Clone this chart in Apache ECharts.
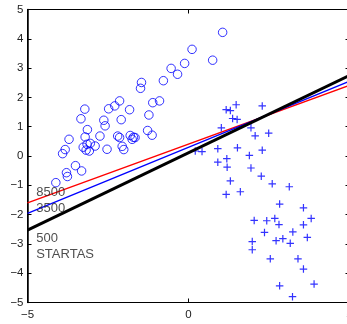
<!DOCTYPE html>
<html>
<head>
<meta charset="utf-8">
<script src="https://cdn.jsdelivr.net/npm/echarts@6/dist/echarts.min.js"></script>
<style>html,body{margin:0;padding:0;background:#fff;}#c{width:347px;height:324px;}</style>
</head>
<body>
<div id="c"></div>
<script>
// Class 1 (open circles)
var circleX = [-4.12,-3.91,-3.83,-3.79,-3.76,-3.71,-3.51,-3.32,-3.34,-3.22,-3.14,-3.21,-3.27,-3.15,-3.05,-2.90,-3.18,-3.08,-2.75,-2.63,-2.59,-2.53,-2.48,-2.29,-2.14,-2.09,-2.20,-2.14,-2.06,-2.01,-1.83,-1.81,-1.75,-1.71,-1.66,-1.49,-1.46,-1.23,-1.27,-1.13,-1.11,-0.90,-0.78,-0.54,-0.34,-0.12,0.11,0.75,1.06];
var circleY = [-0.91,0.08,0.22,-0.57,-0.70,0.57,-0.33,-0.51,1.27,1.60,0.90,0.65,0.30,0.40,0.43,0.34,0.20,0.17,0.68,1.22,1.03,0.23,1.61,1.71,1.88,1.24,0.68,0.63,0.33,0.22,1.58,0.70,0.57,0.64,0.63,2.31,2.51,1.40,0.87,0.71,1.82,1.88,2.57,2.99,2.79,3.16,3.64,3.27,4.22];
// Class 2 (plus markers)
var plusX = [0.21,0.42,0.91,1.02,1.17,1.30,1.48,1.37,1.51,1.52,1.94,2.07,2.29,2.49,2.29,1.89,1.19,0.91,1.20,1.94,2.26,1.30,1.17,1.61,2.60,3.13,2.83,3.57,2.04,2.43,2.68,2.81,3.81,3.57,2.36,3.24,1.98,1.98,2.72,2.93,3.16,3.69,2.54,3.40,3.57,3.90,2.83,3.23];
var plusY = [0.17,0.15,0.25,0.96,1.58,1.55,1.75,1.28,1.25,0.28,0.96,0.69,1.71,0.78,0.20,0.02,-0.09,-0.21,-0.38,-0.41,-0.69,-0.85,-1.31,-1.22,-0.95,-1.05,-1.64,-1.77,-2.20,-2.21,-2.13,-2.34,-2.13,-2.35,-2.61,-2.59,-2.92,-3.20,-2.89,-2.82,-2.98,-2.78,-3.51,-3.51,-3.86,-4.37,-4.43,-4.80];
// Decision lines
var lineX = [-5, 5];
var line8500Y = [-1.60, 2.41];
var line3500Y = [-1.96, 2.55];
var lineStartasY = [-2.53, 2.75];
// Annotations
var annotationLabels = ['8500', '3500', '500', 'STARTAS'];
var annotationX = [-4.73, -4.73, -4.73, -4.73];
var annotationY = [-1.26, -1.78, -2.80, -3.35];
// Axis ticks
var xTicks = [-5, 0, 5];
var yTicks = [-5, -4, -3, -2, -1, 0, 1, 2, 3, 4, 5];

function zip(a, b) { return a.map(function (v, i) { return [v, b[i]]; }); }
function fmt(v) { return String(v).replace('-', '\u2212'); }

var FONT = '"Liberation Sans", Arial, sans-serif';
var TXT = '#222222';
var BLUE = '#0000ff';

var chart = echarts.init(document.getElementById('c'), null, { renderer: 'canvas' });

var axisLineStyle = { show: true, onZero: false, lineStyle: { color: '#000', width: 1 } };
var tickStyle = { show: true, inside: true, length: 4, lineStyle: { color: '#000', width: 1 } };

chart.setOption({
  animation: false,
  backgroundColor: '#fff',
  grid: { left: 27.5, width: 322, top: 9.5, height: 293, containLabel: false, outerBoundsMode: 'none',
          show: true, borderColor: '#000', borderWidth: 1, backgroundColor: 'transparent' },
  xAxis: [
    { type: 'value', position: 'bottom', min: xTicks[0], max: xTicks[xTicks.length - 1], interval: 5,
      axisLine: axisLineStyle, axisTick: tickStyle, splitLine: { show: false },
      axisLabel: { color: TXT, fontFamily: FONT, fontSize: 11.5, margin: 6, formatter: fmt } },
    { type: 'value', position: 'top', min: xTicks[0], max: xTicks[xTicks.length - 1], interval: 5,
      axisLine: axisLineStyle, axisTick: tickStyle, splitLine: { show: false }, axisLabel: { show: false } }
  ],
  yAxis: [
    { type: 'value', position: 'left', min: yTicks[0], max: yTicks[yTicks.length - 1], interval: 1,
      axisLine: { show: true, onZero: false, lineStyle: { color: '#000', width: 1.5 } },
      axisTick: tickStyle, splitLine: { show: false },
      axisLabel: { color: TXT, fontFamily: FONT, fontSize: 11.5, margin: 4, formatter: fmt } },
    { type: 'value', position: 'right', min: yTicks[0], max: yTicks[yTicks.length - 1], interval: 1,
      axisLine: axisLineStyle, axisTick: tickStyle, splitLine: { show: false }, axisLabel: { show: false } }
  ],
  series: [
    { type: 'scatter', data: zip(circleX, circleY), symbol: 'circle', symbolSize: 8.5,
      itemStyle: { color: 'rgba(0,0,0,0)', borderColor: BLUE, borderWidth: 1 }, z: 3 },
    { type: 'scatter', data: zip(plusX, plusY), symbol: 'path://M5,0L5,10M0,5L10,5', symbolSize: 7.5,
      itemStyle: { color: 'rgba(0,0,0,0)', borderColor: BLUE, borderWidth: 1.2 }, z: 3 },
    { type: 'line', data: zip(lineX, line8500Y), symbol: 'none', clip: true,
      lineStyle: { color: '#ff0000', width: 1.3 }, z: 4 },
    { type: 'line', data: zip(lineX, line3500Y), symbol: 'none', clip: true,
      lineStyle: { color: BLUE, width: 1.3 }, z: 5 },
    { type: 'line', data: zip(lineX, lineStartasY), symbol: 'none', clip: true,
      lineStyle: { color: '#000', width: 3 }, z: 6 },
    { type: 'scatter', symbolSize: 0, z: 7, silent: true,
      data: annotationLabels.map(function (t, i) { return { name: t, value: [annotationX[i], annotationY[i]] }; }),
      label: { show: true, position: 'right', distance: 0, formatter: '{b}', color: TXT, fontFamily: FONT, fontSize: 13 } }
  ]
});
</script>
</body>
</html>
